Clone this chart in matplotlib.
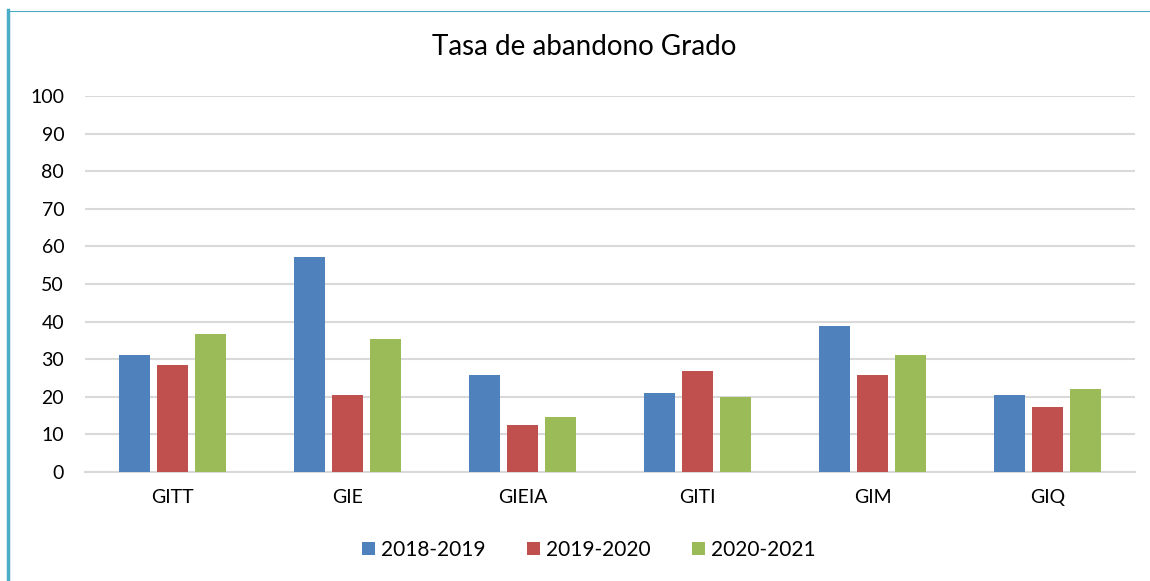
import matplotlib.pyplot as plt
import numpy as np
from matplotlib.lines import Line2D

plt.rcParams['font.family'] = ['Lato', 'DejaVu Sans']

grados = ["GITT", "GIE", "GIEIA", "GITI", "GIM", "GIQ"]
cursos = ["2018-2019", "2019-2020", "2020-2021"]
v_2018 = [31.2, 57.2, 25.9, 21.1, 38.7, 20.6]
v_2019 = [28.5, 20.5, 12.6, 26.9, 25.9, 17.4]
v_2020 = [36.6, 35.5, 14.7, 20.0, 31.2, 22.2]
colores = ["#4f81bd", "#c0504d", "#9bbb59"]

fig = plt.figure(figsize=(11.5, 5.81), dpi=100)
ax = fig.add_axes([85/1150, 1 - 472/581, 1050/1150, 376/581])

x = np.arange(len(grados))
ancho = 0.175
paso = 0.217
for i, (serie, etiqueta) in enumerate(zip([v_2018, v_2019, v_2020], cursos)):
    ax.bar(x + (i - 1) * paso, serie, ancho, color=colores[i], label=etiqueta, zorder=3)

ax.set_xlim(-0.5, 5.5)
ax.set_ylim(0, 100)
ax.set_yticks(range(0, 101, 10))
ax.set_xticks(x)
ax.set_xticklabels(grados)
ax.tick_params(axis='both', length=0, labelsize=14, colors='black')
ax.tick_params(axis='x', pad=12)
ax.tick_params(axis='y', pad=15)
ax.grid(axis='y', color='#d9d9d9', linewidth=1.5, zorder=0)
for s in ['top', 'right', 'left']:
    ax.spines[s].set_visible(False)
ax.spines['bottom'].set_color('#d9d9d9')
ax.spines['bottom'].set_linewidth(1.5)

fig.text(584/1150, 1 - 47/581, "Tasa de abandono Grado", ha='center', va='center', fontsize=20)

fig.legend(loc='center', bbox_to_anchor=(589/1150, 1 - 550/581), ncol=3, frameon=False,
           fontsize=15, handlelength=0.6, handleheight=0.6, handletextpad=0.3, columnspacing=2.0)

# marco
fig.add_artist(Line2D([7.5/1150, 7.5/1150], [0, 1 - 10/581], transform=fig.transFigure, color='#4bacc6', linewidth=2.5))
fig.add_artist(Line2D([7.5/1150, 1], [1 - 10.5/581, 1 - 10.5/581], transform=fig.transFigure, color='#4bacc6', linewidth=0.8))

fig.savefig("out.png", dpi=100)
